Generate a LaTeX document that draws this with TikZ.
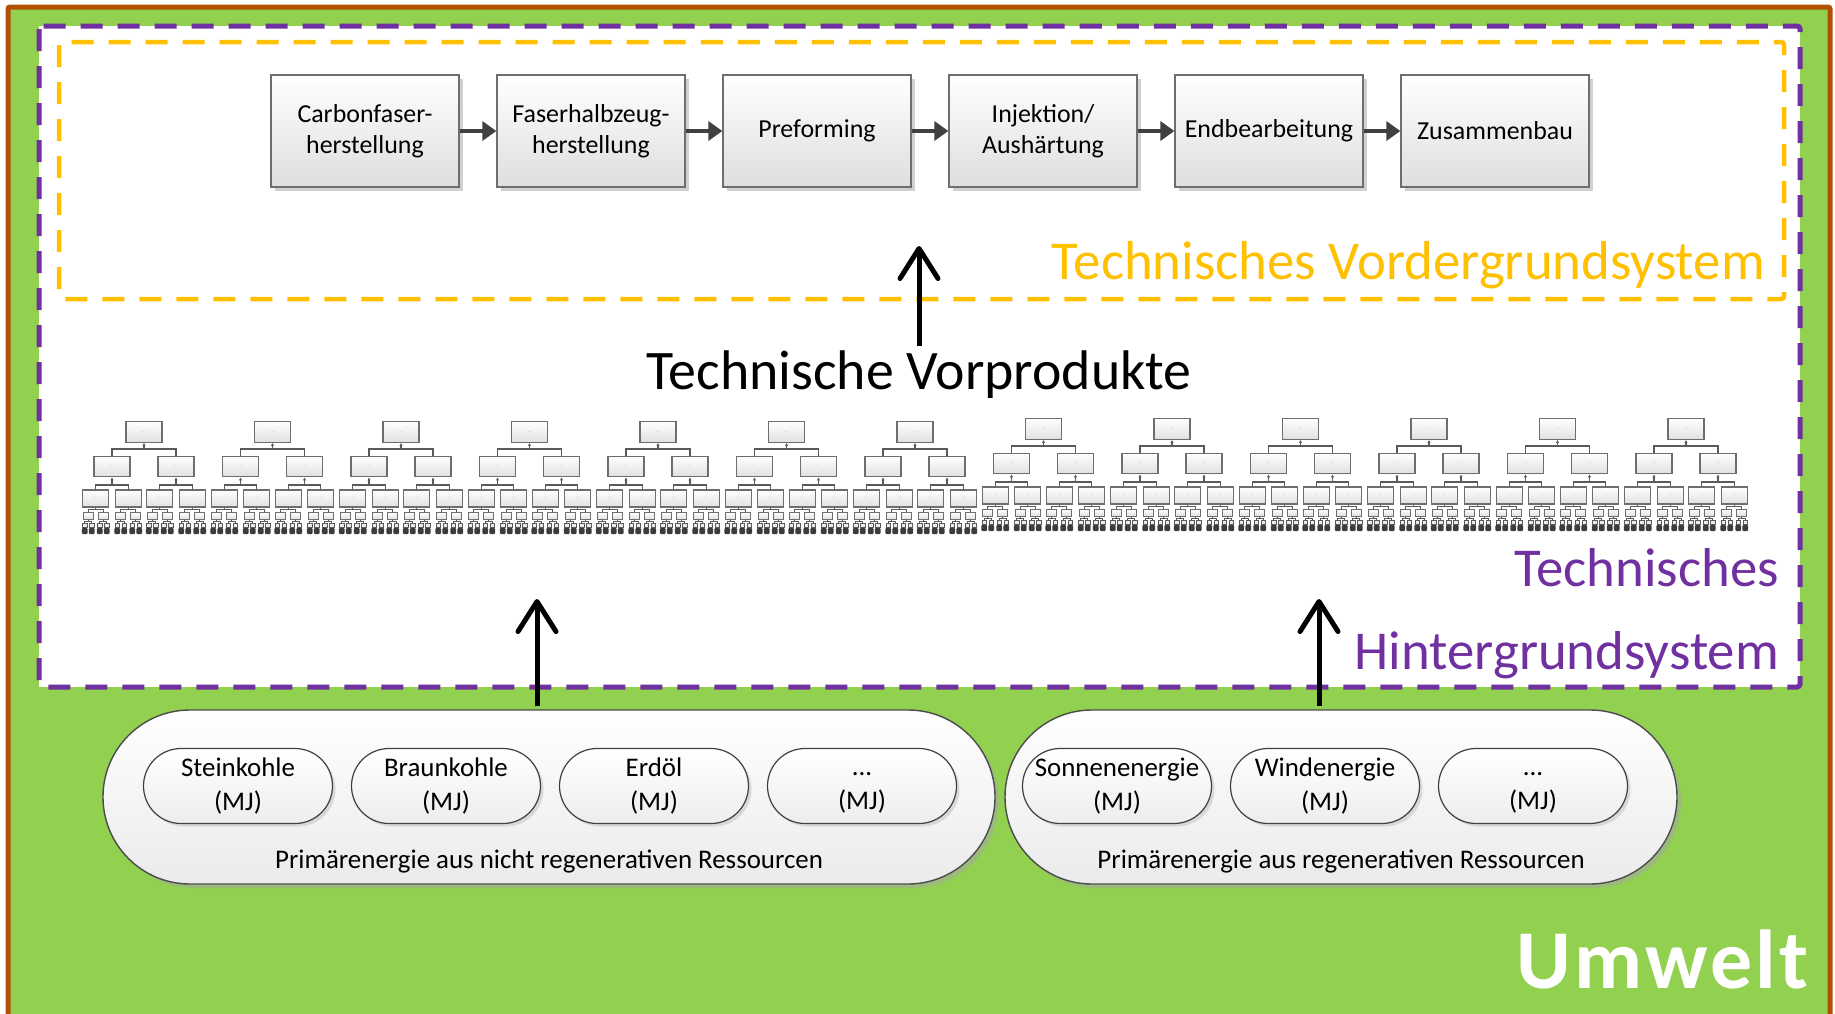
\documentclass[tikz,border=0pt]{standalone}
\usepackage{fontspec}
\setmainfont{Carlito}
\usetikzlibrary{arrows.meta,shadows,calc}

\definecolor{umweltgreen}{HTML}{92D050}
\definecolor{umweltbrown}{HTML}{B05000}
\definecolor{hgpurple}{HTML}{7030A0}
\definecolor{vgyellow}{HTML}{FFC000}
\definecolor{boxline}{HTML}{6E6E6E}
\definecolor{procarrow}{HTML}{404040}
\definecolor{treeline}{HTML}{5A5A5A}
\definecolor{treedark}{HTML}{3C3C3C}

\newcommand\biglabelfont{\fontsize{55}{62}\selectfont}

\begin{document}
\begin{tikzpicture}[x=1bp,y=-1bp,
  procbox/.style={draw=boxline, line width=1.3bp, top color=white, bottom color=black!13,
    minimum width=188bp, minimum height=112bp, inner sep=0pt, align=center,
    font=\fontsize{26}{31}\selectfont,
    drop shadow={shadow xshift=4bp, shadow yshift=-4bp, fill=black!30, opacity=.6}},
  procflow/.style={draw=procarrow, line width=3.5bp, -{Triangle[length=14bp,width=19bp]}},
  biglabel/.style={inner sep=0pt, font=\biglabelfont},
  bigarrow/.style={draw=black, line width=5bp, -{Straight Barb[length=30bp,width=38bp,round]}},
  sysframe/.style={line width=5bp, dash pattern=on 22bp off 15bp, rounded corners=3bp},
  capsule/.style={draw=black!70, line width=1.4bp, rounded corners=87bp,
    top color=white, bottom color=black!8, minimum height=174bp, inner sep=0pt,
    drop shadow={shadow xshift=4bp, shadow yshift=-4bp, fill=black!35, opacity=.5}},
  pill/.style={draw=black!75, line width=1.2bp, rounded corners=37.5bp,
    top color=white, bottom color=black!7, minimum width=189bp, minimum height=75bp,
    inner sep=0pt, align=center, font=\fontsize{27}{34}\selectfont,
    drop shadow={shadow xshift=3bp, shadow yshift=-3bp, fill=black!25, opacity=.5}},
  caption/.style={inner sep=0pt, font=\fontsize{27}{30}\selectfont},
  tb/.style={draw=boxline, line width=1.4bp, top color=white, bottom color=black!12,
    inner sep=0pt, font=\fontsize{4}{4}\selectfont\color{black!45}},
  tbA/.style={tb, minimum width=36bp, minimum height=20.5bp},
  tbB/.style={tb, line width=1.2bp, minimum width=26bp, minimum height=17bp},
  tbC/.style={tb, line width=1bp, minimum width=10bp, minimum height=7bp},
  tbD/.style={draw=treeline, line width=.8bp, fill=black!8, minimum width=4.5bp,
    minimum height=4bp, inner sep=0pt},
  tlink/.style={draw=treeline, line width=1.3bp},
  tlinkthin/.style={draw=treeline, line width=.8bp},
  tup/.style={tlink, -{Latex[length=3bp,width=3.5bp]}}
]
\useasboundingbox (0,0) rectangle (1835,1013);

% environment
\fill[white] (0,0) rectangle (1835,1013);
\fill[umweltgreen] (8,7) rectangle (1830,1020);
\draw[umweltbrown, line width=5bp, rounded corners=2bp] (8,1030) -- (8,7) -- (1830,7) -- (1830,1030);

% technical background system
\fill[white] (39,26) rectangle (1800,687);
\draw[sysframe, hgpurple] (39,26) rectangle (1800,687);

% technical foreground system
\draw[sysframe, vgyellow, line width=4.5bp] (59,42) rectangle (1784,299);

% process chain
\node[procbox] (p1) at (365,131) {Carbonfaser-\\herstellung};
\node[procbox] (p2) at (591,131) {Faserhalbzeug-\\herstellung};
\node[procbox] (p3) at (817,131) {Preforming};
\node[procbox] (p4) at (1043,131) {Injektion/\\Aushärtung};
\node[procbox] (p5) at (1269,131) {Endbearbeitung};
\node[procbox] (p6) at (1495,131) {Zusammenbau};
\foreach \a/\b in {p1/p2,p2/p3,p3/p4,p4/p5,p5/p6}
  \draw[procflow] (\a.east) -- (\b.west);

% labels
\node[biglabel, anchor=base east, text=vgyellow] (vglabel) at (1765,279) {Technisches Vordergrundsystem};
\node[biglabel, anchor=base east, text=hgpurple] (hglabelA) at (1779,586) {Technisches};
\node[biglabel, anchor=base east, text=hgpurple] (hglabelB) at (1779,669) {Hintergrundsystem};
\node[biglabel, anchor=base, font=\fontsize{56}{62}\selectfont] (vorprod) at (919,389) {Technische Vorprodukte};
\node[inner sep=0pt, anchor=base east, text=white,
  font=\fontsize{84}{90}\selectfont\bfseries\addfontfeatures{LetterSpace=4}] (umwelt) at (1809,988) {Umwelt};

% background processes: a row of small trees
\foreach \i in {0,...,12}{
  \pgfmathsetmacro{\cx}{144+128.5*\i}
  \pgfmathsetmacro{\dy}{3*(\i<7)}
  \node[tbA] (t\i) at (\cx,429+\dy) {...};
  \coordinate (t\i j) at (\cx,446+\dy);
  \draw[tup] (t\i j) -- (t\i.south);
  \foreach \a in {0,1}{
    \pgfmathsetmacro{\xa}{\cx+64*\a-32}
    \node[tbA] (t\i-\a) at (\xa,463.5+\dy) {...};
    \draw[tlink] (t\i-\a.north) |- (t\i j);
    \coordinate (t\i-\a j) at (\xa,482+\dy);
    \draw[tup] (t\i-\a j) -- (t\i-\a.south);
    \foreach \b in {0,1}{
      \pgfmathsetmacro{\xb}{\xa+32.5*\b-16.25}
      \node[tbB] (t\i-\a\b) at (\xb,495.5+\dy) {...};
      \draw[tlink] (t\i-\a\b.north) |- (t\i-\a j);
      \coordinate (t\i-\a\b j) at (\xb,506.5+\dy);
      \draw[tlinkthin] (t\i-\a\b j) -- (t\i-\a\b.south);
      \foreach \c in {0,1}{
        \pgfmathsetmacro{\xc}{\xb+15*\c-7.5}
        \node[tbC] (t\i-\a\b\c) at (\xc,512.5+\dy) {};
        \draw[tlinkthin] (t\i-\a\b\c.north) |- (t\i-\a\b j);
        \coordinate (t\i-\a\b\c j) at (\xc,518.5+\dy);
        \draw[tlinkthin] (t\i-\a\b\c j) -- (t\i-\a\b\c.south);
        \foreach \d in {0,1}{
          \pgfmathsetmacro{\xd}{\xc+7*\d-3.5}
          \node[tbD] (t\i-\a\b\c\d) at (\xd,522+\dy) {};
          \draw[tlinkthin] (t\i-\a\b\c\d.north) |- (t\i-\a\b\c j);
          \fill[treedark, rounded corners=1bp] (\xd-2.8,531+\dy) rectangle (\xd+2.8,525+\dy);
        }
      }
    }
  }
}

% primary energy resources
\node[capsule, minimum width=892bp] (nonreg) at (549,797) {};
\node[capsule, minimum width=672bp] (reg) at (1341,797) {};

\node[pill] (steinkohle) at (238,786) {Steinkohle\\(MJ)};
\node[pill] (braunkohle) at (446,786) {Braunkohle\\(MJ)};
\node[pill] (erdoel) at (654,786) {Erdöl\\(MJ)};
\node[pill] (fossilmore) at (862,786) {\vphantom{S}...\\(MJ)};
\node[pill] (sonne) at (1117,786) {Sonnenenergie\\(MJ)};
\node[pill] (wind) at (1325,786) {Windenergie\\(MJ)};
\node[pill] (regmore) at (1533,786) {\vphantom{S}...\\(MJ)};

\node[caption, anchor=base] (nonregcap) at (549,868) {Primärenergie aus nicht regenerativen Ressourcen};
\node[caption, anchor=base] (regcap) at (1341,868) {Primärenergie aus regenerativen Ressourcen};

% flows between the systems
\coordinate (vtip) at (919,246);
\coordinate (ltip) at (537,599);
\coordinate (rtip) at (1319,599);
\draw[bigarrow] ($(vorprod.north)+(0,-4)$) -- (vtip);
\draw[bigarrow] ($(ltip |- nonreg.north)+(0,-3)$) -- (ltip);
\draw[bigarrow] ($(rtip |- reg.north)+(0,-3)$) -- (rtip);
\end{tikzpicture}
\end{document}
